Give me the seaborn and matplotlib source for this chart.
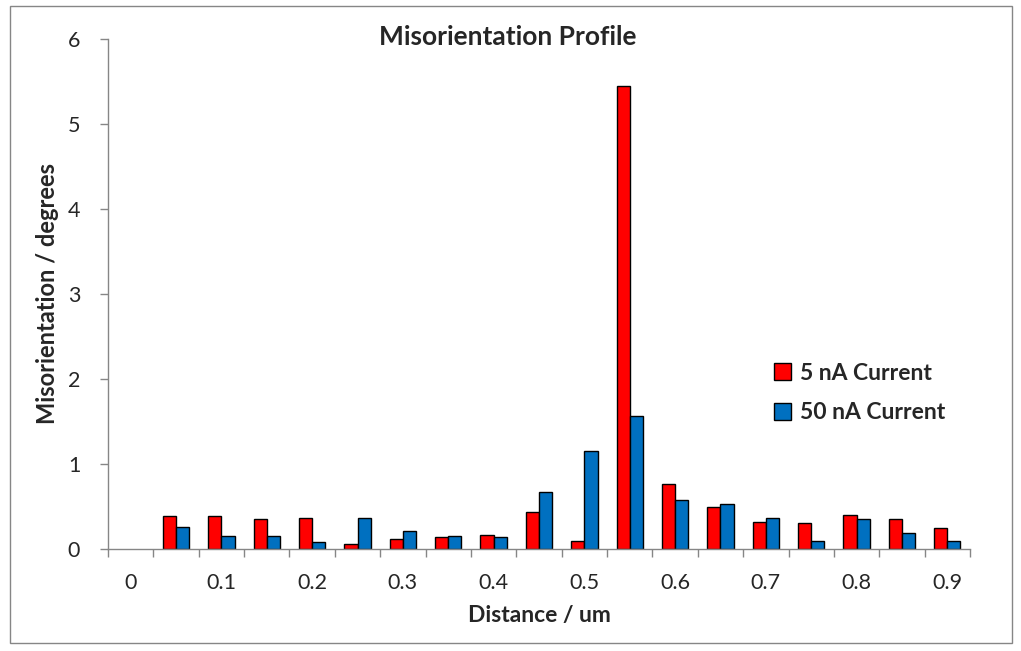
import matplotlib
matplotlib.use("Agg")
import matplotlib.pyplot as plt
import seaborn as sns
import pandas as pd
import numpy as np
from matplotlib.patches import Rectangle

distances = ["0", "0.05", "0.1", "0.15", "0.2", "0.25", "0.3", "0.35", "0.4", "0.45",
             "0.5", "0.55", "0.6", "0.65", "0.7", "0.75", "0.8", "0.85", "0.9"]
current_5nA = [np.nan, 0.385, 0.385, 0.35, 0.37, 0.055, 0.12, 0.14, 0.17, 0.44,
               0.09, 5.45, 0.76, 0.50, 0.32, 0.31, 0.395, 0.35, 0.245]
current_50nA = [np.nan, 0.255, 0.15, 0.15, 0.08, 0.36, 0.21, 0.15, 0.14, 0.665,
                1.15, 1.57, 0.58, 0.53, 0.37, 0.10, 0.35, 0.185, 0.09]
series_names = ["5 nA Current", "50 nA Current"]
tick_labels = ["0", "0.1", "0.2", "0.3", "0.4", "0.5", "0.6", "0.7", "0.8", "0.9"]
y_ticks = [0, 1, 2, 3, 4, 5, 6]

df = pd.DataFrame({
    "Distance": distances * 2,
    "Value": current_5nA + current_50nA,
    "Series": [series_names[0]] * len(distances) + [series_names[1]] * len(distances),
})

sns.set_theme(style="white")
plt.rcParams["font.family"] = ["Lato", "DejaVu Sans"]

fig = plt.figure(figsize=(10.21, 6.51), dpi=100)
ax = fig.add_axes([108 / 1021, 1 - 549 / 651, (970 - 108) / 1021, (549 - 39) / 651])

sns.barplot(data=df, x="Distance", y="Value", hue="Series", order=distances,
            hue_order=series_names,
            palette=["#FF0000", "#0070C0"], edgecolor="black", linewidth=1.0,
            width=0.58, saturation=1, ax=ax)

n = len(distances)
ax.set_xlim(-0.5, n - 0.5)
ax.set_ylim(0, 6)

# major ticks at category boundaries (marks only), labels on every other category
ax.set_xticks([i - 0.5 for i in range(n + 1)])
ax.set_xticklabels([])
ax.set_xticks(list(range(0, n, 2)), minor=True)
ax.set_xticklabels(tick_labels, minor=True, fontsize=15.5)
ax.tick_params(axis="x", which="major", length=6, width=1, color="#868686", direction="out", bottom=True)
ax.tick_params(axis="x", which="minor", length=0, pad=17)

ax.set_yticks(y_ticks)
ax.set_yticklabels([str(v) for v in y_ticks], fontsize=15.5)
ax.tick_params(axis="y", length=6, width=1, color="#868686", direction="out", left=True, pad=14)

for s in ["top", "right"]:
    ax.spines[s].set_visible(False)
for s in ["left", "bottom"]:
    ax.spines[s].set_color("#868686")
    ax.spines[s].set_linewidth(1)

ax.set_xlabel("Distance / um", fontsize=16.5, fontweight="bold", labelpad=9)
ax.set_ylabel("Misorientation / degrees", fontsize=17, fontweight="bold")
ax.yaxis.set_label_coords(-0.057, 0.5)
fig.text(508 / 1021, 1 - 37 / 651, "Misorientation Profile", ha="center", va="center",
         fontsize=19, fontweight="bold")

leg = ax.legend(loc="upper left", bbox_to_anchor=(0.762, 0.383), frameon=False,
                prop={"size": 16.5, "weight": "bold"}, handlelength=0.75, handleheight=0.75,
                labelspacing=0.8, handletextpad=0.4, borderaxespad=0)

fig.patches.append(Rectangle((10 / 1021, 1 - 643 / 651), 1002 / 1021, 637 / 651,
                             transform=fig.transFigure, fill=False,
                             edgecolor="#868686", linewidth=1))

fig.savefig("out.png", dpi=100)
